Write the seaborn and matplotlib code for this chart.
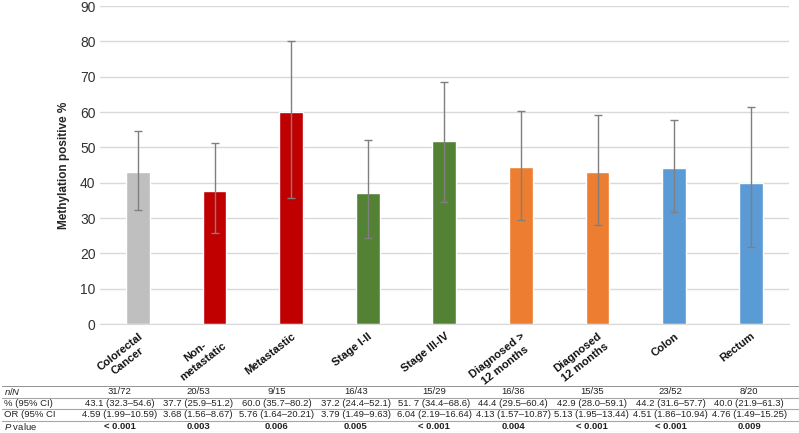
import numpy as np
import pandas as pd
import matplotlib
matplotlib.use('Agg')
import matplotlib.pyplot as plt
import matplotlib.transforms as mtransforms
import seaborn as sns

groups = ['Colorectal\nCancer', 'Non-\nmetastatic', 'Metastastic', 'Stage I-II', 'Stage III-IV',
          'Diagnosed >\n12 months', 'Diagnosed\n12 months', 'Colon', 'Rectum']
pct = [43.1, 37.7, 60.0, 37.2, 51.7, 44.4, 42.9, 44.2, 40.0]
ci_low = [32.3, 25.9, 35.7, 24.4, 34.4, 29.5, 28.0, 31.6, 21.9]
ci_high = [54.6, 51.2, 80.2, 52.1, 68.6, 60.4, 59.1, 57.7, 61.3]
bar_colors = ['#BFBFBF', '#C00000', '#C00000', '#548235', '#548235',
              '#ED7D31', '#ED7D31', '#5B9BD5', '#5B9BD5']

row_labels = ['$n/N$', '% (95% CI)', 'OR (95% CI', '$P$ value']
n_over_N = ['31/72', '20/53', '9/15', '16/43', '15/29', '16/36', '15/35', '23/52', '8/20']
pct_ci = ['43.1 (32.3–54.6)', '37.7 (25.9–51.2)', '60.0 (35.7–80.2)', '37.2 (24.4–52.1)',
          '51. 7 (34.4–68.6)', '44.4 (29.5–60.4)', '42.9 (28.0–59.1)', '44.2 (31.6–57.7)',
          '40.0 (21.9–61.3)']
or_ci = ['4.59 (1.99–10.59)', '3.68 (1.56–8.67)', '5.76 (1.64–20.21)', '3.79 (1.49–9.63)',
         '6.04 (2.19–16.64)', '4.13 (1.57–10.87)', '5.13 (1.95–13.44)', '4.51 (1.86–10.94)',
         '4.76 (1.49–15.25)']
p_values = ['< 0.001', '0.003', '0.006', '0.005', '< 0.001', '0.004', '< 0.001', '< 0.001', '0.009']

sns.set_style('white')
plt.rcParams['font.family'] = ['Liberation Sans', 'DejaVu Sans']
plt.rcParams['mathtext.fontset'] = 'custom'
plt.rcParams['mathtext.it'] = 'Liberation Sans:italic'
plt.rcParams['mathtext.rm'] = 'Liberation Sans'

df = pd.DataFrame({'group': groups, 'pct': pct})

fig = plt.figure(figsize=(7.99, 4.33), dpi=100)
ax = fig.add_axes([0.1248, 0.2517, 0.8627, 0.7343])

sns.barplot(data=df, x='group', y='pct', hue='group', palette=bar_colors,
            width=0.31, legend=False, errorbar=None, ax=ax, saturation=1)

# asymmetric CI error bars
yerr = np.array([np.array(pct) - np.array(ci_low), np.array(ci_high) - np.array(pct)])
ax.errorbar(np.arange(len(groups)), pct, yerr=yerr, fmt='none', ecolor='#7f7f7f',
            elinewidth=1, capsize=3, capthick=1)

ax.set_ylim(0, 90)
ax.set_xlim(-0.5, 8.5)
ax.set_yticks(range(0, 91, 10))
ax.yaxis.grid(True, color='#d9d9d9', lw=1)
ax.set_axisbelow(True)
for s in ['top', 'right', 'left']:
    ax.spines[s].set_visible(False)
ax.spines['bottom'].set_color('#d9d9d9')
ax.tick_params(axis='both', length=0)
ax.tick_params(axis='y', labelsize=10, pad=3, labelcolor='#333333')
ax.set_xlabel('')
ax.set_ylabel('Methylation positive %', fontsize=8.5, fontweight='bold', labelpad=9)
ax.yaxis.set_label_coords(-0.043, 0.5)

offset = mtransforms.ScaledTranslation(7 / 100, 0, fig.dpi_scale_trans)
ax.set_xticks(range(len(groups)))
ax.set_xticklabels(groups, rotation=38, ha='right', rotation_mode='anchor',
                   fontsize=8, fontweight='bold', multialignment='center',
                   color='#111111', linespacing=1.3)
for lab in ax.get_xticklabels():
    lab.set_transform(lab.get_transform() + offset)
ax.tick_params(axis='x', pad=5)

# summary table below the chart
tax = fig.add_axes([0.0025, 1 / 433, 0.9975, 46 / 433])
tax.set_xlim(0, 10)
tax.set_ylim(4, 0)
tax.axis('off')
rows = [n_over_N, pct_ci, or_ci, p_values]
for r, (lab, vals) in enumerate(zip(row_labels, rows)):
    tax.text(0.02, r + 0.5, lab, ha='left', va='center', fontsize=6.8, color='#222222')
    for i, v in enumerate(vals):
        tax.text(1.475 + i * 0.9875, r + 0.5, v, ha='center', va='center', fontsize=6.8,
                 color='#222222', fontweight='bold' if r == 3 else 'normal')
tax.axhline(0, color='#808080', lw=1.2)
for r in range(1, 5):
    tax.axhline(r, color='#a6a6a6', lw=0.8)

fig.savefig('out.png', dpi=100)
